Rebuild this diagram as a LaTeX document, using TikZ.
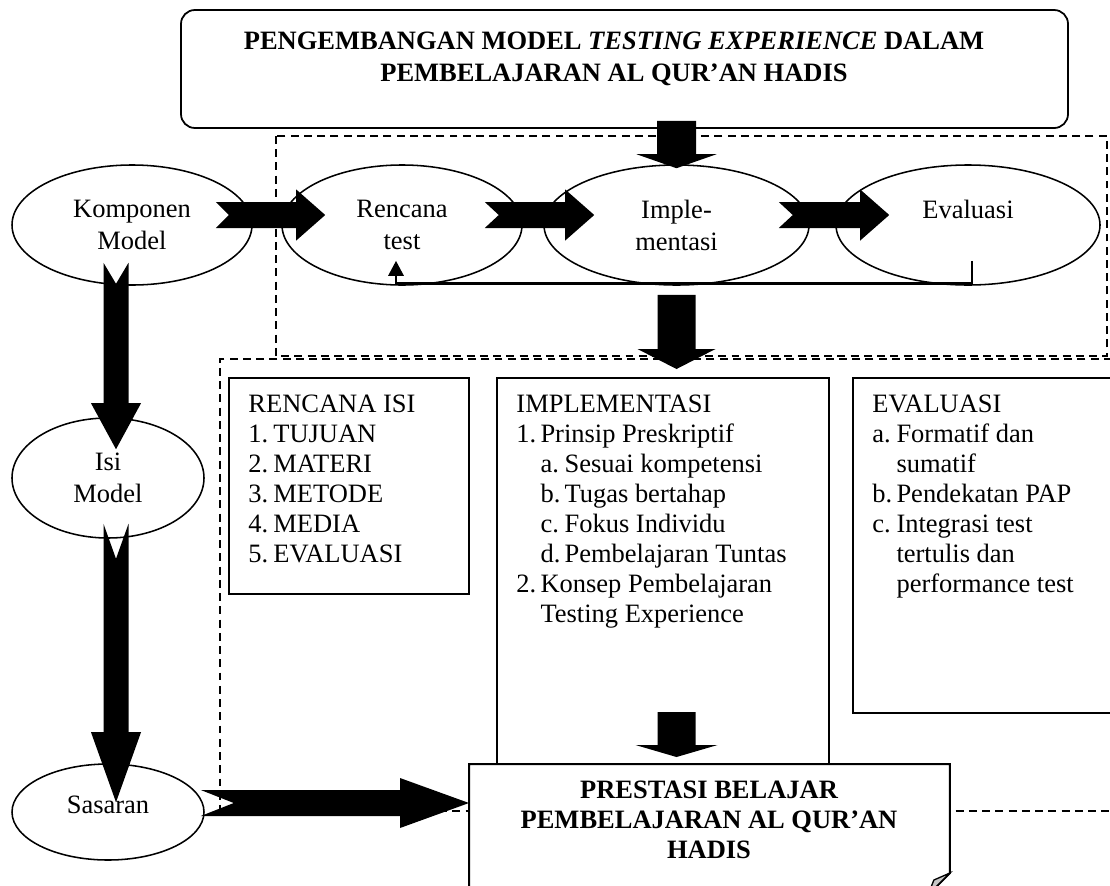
\documentclass[tikz,border=0pt]{standalone}
\usepackage{fontspec}
\setmainfont{Liberation Serif}
\usetikzlibrary{calc,shapes.geometric,arrows.meta}

% one drawing unit
\def\pxu{0.453pt}

% notched block arrow pointing right: tail, tip, shaft half-height, head half-height, head length, notch depth
\newcommand\blockright[6]{%
  \fill[blockfill] ($(#1)+(0,-#3)$) -- ($(#2)+(-#5,-#3)$) -- ($(#2)+(-#5,-#4)$) -- (#2)
    -- ($(#2)+(-#5,#4)$) -- ($(#2)+(-#5,#3)$) -- ($(#1)+(0,#3)$) -- ($(#1)+(#6,0)$) -- cycle;}
% block arrow pointing down: tail, tip, shaft half-width, head half-width, head length, notch depth
\newcommand\blockdown[6]{%
  \fill[blockfill] ($(#1)+(-#3,0)$) -- ($(#2)+(-#3,-#5)$) -- ($(#2)+(-#4,-#5)$) -- (#2)
    -- ($(#2)+(#4,-#5)$) -- ($(#2)+(#3,-#5)$) -- ($(#1)+(#3,0)$) -- ($(#1)+(0,#6)$) -- cycle;}

\begin{document}
\begin{tikzpicture}[x=\pxu, y=-\pxu,
  ell/.style={ellipse, draw, line width=0.7pt, inner sep=0pt, align=center,
              font=\fontsize{12}{14.5}\selectfont},
  frame/.style={draw, dash pattern=on 3.6pt off 2.4pt, line width=0.7pt},
  listbox/.style={draw, line width=0.9pt, rectangle, inner sep=0pt, anchor=north west},
  listtext/.style={anchor=base west, inner sep=0pt, font=\fontsize{12}{13.6}\selectfont},
  headtext/.style={align=center, inner sep=0pt, font=\bfseries\fontsize{12}{14.5}\selectfont},
  blockfill/.style={fill=black},
  feedback/.style={line width=1.3pt, -{Triangle[length=6.8pt,width=6.8pt]}}]

\useasboundingbox (0,0) rectangle (1110,885);
\clip (0,0) rectangle (1110,885);

% dashed group frames
\draw[frame] (276,136) rectangle (1107,356);
\draw[frame] (1125,359) -- (220,359) -- (220,811) -- (1125,811);

% title
\node[draw, line width=0.8pt, rounded corners=6.3pt, minimum width=887*\pxu,
      minimum height=118*\pxu, inner sep=0pt] (top) at (624.5,69) {};
\node[headtext] (title) at (614,58.5)
  {PENGEMBANGAN MODEL \textit{TESTING EXPERIENCE} DALAM\\PEMBELAJARAN AL QUR'AN HADIS};

% model stages
\node[ell, minimum width=240*\pxu, minimum height=120*\pxu] (K) at (132,225) {Komponen\\Model};
\node[ell, minimum width=240*\pxu, minimum height=120*\pxu] (R) at (402,225) {Rencana\\test};
\node[ell, minimum width=265*\pxu, minimum height=120*\pxu] (I) at (676.5,225) {Imple-\\mentasi};
\node[ell, minimum width=264*\pxu, minimum height=120*\pxu, text depth=14.5pt] (E) at (968,225) {Evaluasi};
\node[ell, minimum width=192*\pxu, minimum height=120*\pxu] (Isi) at (108,478) {Isi\\Model};
\node[ell, minimum width=192*\pxu, minimum height=96*\pxu, text depth=6.3pt] (Sas) at (108,812) {Sasaran};

% content boxes
\node[listbox, minimum width=240*\pxu, minimum height=216*\pxu] (RB) at (228,377) {};
\node[listbox, minimum width=332*\pxu, minimum height=430*\pxu] (IB) at (496,377) {};
\node[listbox, minimum width=290*\pxu, minimum height=335*\pxu] (EB) at (852,377) {};

\node[listtext] (RBt) at ($(RB.north west)+(20,35)$) {\begin{tabular}[t]{@{}p{11.3pt}@{}l@{}}
\multicolumn{2}{@{}l@{}}{RENCANA ISI}\\
1.&TUJUAN\\
2.&MATERI\\
3.&METODE\\
4.&MEDIA\\
5.&EVALUASI
\end{tabular}};

\node[listtext] (IBt) at ($(IB.north west)+(20,35)$) {\begin{tabular}[t]{@{}p{10.9pt}@{}p{10.9pt}@{}l@{}}
\multicolumn{3}{@{}l@{}}{IMPLEMENTASI}\\
1.&\multicolumn{2}{@{}l@{}}{Prinsip Preskriptif}\\
&a.&Sesuai kompetensi\\
&b.&Tugas bertahap\\
&c.&Fokus Individu\\
&d.&Pembelajaran Tuntas\\
2.&\multicolumn{2}{@{}l@{}}{Konsep Pembelajaran}\\
&\multicolumn{2}{@{}l@{}}{Testing Experience}
\end{tabular}};

\node[listtext] (EBt) at ($(EB.north west)+(20,35)$) {\begin{tabular}[t]{@{}p{10.9pt}@{}l@{}}
\multicolumn{2}{@{}l@{}}{EVALUASI}\\
a.&Formatif dan\\
&sumatif\\
b.&Pendekatan PAP\\
c.&Integrasi test\\
&tertulis dan\\
&performance test
\end{tabular}};

% outcome box with folded corner
\node[minimum width=480*\pxu, minimum height=131*\pxu, anchor=north west, inner sep=0pt] (Pbox) at (469,764) {};
\filldraw[fill=white, line width=0.9pt] (Pbox.north west) -- (Pbox.north east) -- ++(0,109)
  -- ++(-22,22) -- (Pbox.south west) -- cycle;
\filldraw[fill=gray!45, line width=0.6pt] ($(Pbox.north east)+(0,109)$) -- ($(Pbox.north east)+(-16,116)$)
  -- ($(Pbox.north east)+(-22,131)$) -- cycle;
\node[headtext, font=\bfseries\fontsize{12}{13.6}\selectfont] (P) at (709,820)
  {PRESTASI BELAJAR\\PEMBELAJARAN AL QUR'AN\\HADIS};

% feedback from evaluation to test plan
\coordinate (fbS) at ($(E.south)+(4,-25)$);
\coordinate (fbE) at ($(R.south)+(-6,-25)$);
\draw[feedback] (fbS) -- ++(0,23) -| (fbE);

% block arrows
\coordinate (krT) at ($(K.east)+(-37,-10)$);
\coordinate (krH) at ($(R.west)+(44,-10)$);
\blockright{krT}{krH}{13}{25.5}{29}{13}
\coordinate (riT) at ($(R.east)+(-38,-10)$);
\coordinate (riH) at ($(I.west)+(51,-10)$);
\blockright{riT}{riH}{13}{25.5}{29}{14}
\coordinate (ieT) at ($(I.east)+(-31,-10)$);
\coordinate (ieH) at ($(E.west)+(54,-10)$);
\blockright{ieT}{ieH}{13}{25.5}{29}{14}

\coordinate (tiT) at ($(top.south -| I.north)+(0,-8)$);
\coordinate (tiH) at ($(I.north)+(0,4)$);
\blockdown{tiT}{tiH}{19.5}{40}{14}{0}
\coordinate (ibT) at ($(I.south)+(0,9)$);
\coordinate (ibH) at ($(I.south |- IB.north)+(0,-8)$);
\blockdown{ibT}{ibH}{19}{39}{20}{0}
\coordinate (ipT) at ($(I.south |- Pbox.north)+(0,-52)$);
\coordinate (ipH) at ($(I.south |- Pbox.north)+(0,-7)$);
\blockdown{ipT}{ipH}{19}{41}{12}{0}

\coordinate (kiT) at ($(K.south)+(-16,-23)$);
\coordinate (kiH) at ($(Isi.north)+(8,32)$);
\blockdown{kiT}{kiH}{12.5}{25}{46}{21}
\coordinate (isT) at ($(Isi.south)+(8,-15)$);
\coordinate (isH) at ($(Sas.north)+(8,39)$);
\blockdown{isT}{isH}{12.5}{25}{70}{35}
\coordinate (spT) at ($(Sas.east)+(-4,-9)$);
\coordinate (spH) at ($(Pbox.north west)+(0,39)$);
\blockright{spT}{spH}{13}{25}{69}{33}

\end{tikzpicture}
\end{document}
